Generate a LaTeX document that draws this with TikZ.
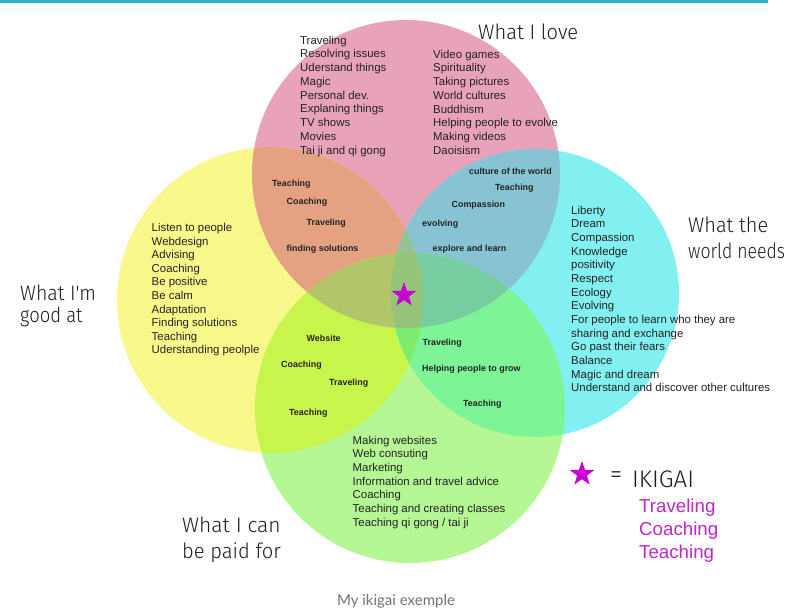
\documentclass[tikz,border=0pt]{standalone}
\usepackage{graphicx}
\usepackage{fontspec}
\setmainfont{Liberation Sans}
\newfontfamily\hand{Fira Sans Light}
\newfontfamily\capfont{Lato}
\usetikzlibrary{shapes.geometric}
\newcommand\hwsq[2]{\scalebox{#1}[1]{#2}}
\definecolor{cP}{RGB}{232,162,185}
\definecolor{cY}{RGB}{249,248,138}
\definecolor{cC}{RGB}{130,240,240}
\definecolor{cG}{RGB}{180,247,148}
\definecolor{cPY}{RGB}{228,162,130}
\definecolor{cPC}{RGB}{135,195,210}
\definecolor{cYG}{RGB}{200,245,75}
\definecolor{cCG}{RGB}{125,245,150}
\definecolor{cYC}{RGB}{170,240,170}
\definecolor{cPG}{RGB}{175,200,160}
\definecolor{cPYC}{RGB}{150,192,150}
\definecolor{cPYG}{RGB}{178,198,105}
\definecolor{cPCG}{RGB}{118,205,160}
\definecolor{cYCG}{RGB}{125,235,110}
\definecolor{cPYCG}{RGB}{150,195,122}
\definecolor{txt}{RGB}{35,35,35}
\definecolor{hwc}{RGB}{30,30,30}
\definecolor{mag}{RGB}{200,0,210}
\definecolor{magtxt}{RGB}{190,40,200}
\definecolor{bar}{RGB}{40,183,194}
\definecolor{band}{RGB}{244,251,251}
\definecolor{capc}{RGB}{115,115,115}
\begin{document}
\begin{tikzpicture}[x=1pt,y=-1pt,
  lst/.style={font=\fontsize{11.4}{13.7}\selectfont, text=txt, inner sep=0, anchor=base west},
  bl/.style={font=\bfseries\fontsize{8.9}{10}\selectfont, text=txt, inner sep=0, anchor=base west},
  hw/.style={font=\hand\fontsize{21}{25}\selectfont, text=hwc, inner sep=0, anchor=base west},
  mg/.style={font=\fontsize{18.7}{23}\selectfont, text=magtxt, inner sep=0, anchor=base west},
  starshape/.style={star, star points=5, star point ratio=2.5, minimum size=26pt, inner sep=0, fill=mag}]
\useasboundingbox (0,0) rectangle (800,608);
\fill[white] (0,0) rectangle (800,608);
\fill[band] (0,3) rectangle (768,13);
\fill[bar] (0,0) rectangle (768,3);
% circle centres
\coordinate (P) at (406,174);
\coordinate (Y) at (270,300);
\coordinate (C) at (535,293);
\coordinate (G) at (410,408);
% base circles
\fill[cP] (P) circle[radius=154pt];
\fill[cY] (Y) circle[radius=153pt];
\fill[cC] (C) circle[radius=144pt];
\fill[cG] (G) circle[radius=155pt];
% pairs
\begin{scope}\clip (P) circle[radius=154pt]; \fill[cPY] (Y) circle[radius=153pt];\end{scope}
\begin{scope}\clip (P) circle[radius=154pt]; \fill[cPC] (C) circle[radius=144pt];\end{scope}
\begin{scope}\clip (P) circle[radius=154pt]; \fill[cPG] (G) circle[radius=155pt];\end{scope}
\begin{scope}\clip (Y) circle[radius=153pt]; \fill[cYG] (G) circle[radius=155pt];\end{scope}
\begin{scope}\clip (Y) circle[radius=153pt]; \fill[cYC] (C) circle[radius=144pt];\end{scope}
\begin{scope}\clip (C) circle[radius=144pt]; \fill[cCG] (G) circle[radius=155pt];\end{scope}
% triples
\begin{scope}\clip (P) circle[radius=154pt]; \clip (Y) circle[radius=153pt]; \fill[cPYC] (C) circle[radius=144pt];\end{scope}
\begin{scope}\clip (P) circle[radius=154pt]; \clip (Y) circle[radius=153pt]; \fill[cPYG] (G) circle[radius=155pt];\end{scope}
\begin{scope}\clip (P) circle[radius=154pt]; \clip (C) circle[radius=144pt]; \fill[cPCG] (G) circle[radius=155pt];\end{scope}
\begin{scope}\clip (Y) circle[radius=153pt]; \clip (C) circle[radius=144pt]; \fill[cYCG] (G) circle[radius=155pt];\end{scope}
% all four
\begin{scope}\clip (P) circle[radius=154pt]; \clip (Y) circle[radius=153pt]; \clip (C) circle[radius=144pt]; \fill[cPYCG] (G) circle[radius=155pt];\end{scope}

% What I love lists
\foreach \t [count=\i] in {Traveling,Resolving issues,Uderstand things,Magic,Personal dev.,Explaning things,TV shows,Movies,Tai ji and qi gong}
  \node[lst] (pa\i) at (300,{44+(\i-1)*13.75}) {\t};
\foreach \t [count=\i] in {Video games,Spirituality,Taking pictures,World cultures,Buddhism,Helping people to evolve,Making videos,Daoisism}
  \node[lst] (pb\i) at (433,{58+(\i-1)*13.75}) {\t};
% good at
\foreach \t [count=\i] in {Listen to people,Webdesign,Advising,Coaching,Be positive,Be calm,Adaptation,Finding solutions,Teaching,Uderstanding peolple}
  \node[lst] (ya\i) at (151.5,{231.5+(\i-1)*13.6}) {\t};
% world needs
\foreach \t [count=\i] in {Liberty,Dream,Compassion,Knowledge,positivity,Respect,Ecology,Evolving,For people to learn who they are,sharing and exchange,Go past their fears,Balance,Magic and dream,Understand and discover other cultures}
  \node[lst] (ca\i) at (571,{214+(\i-1)*13.67}) {\t};
% paid for
\foreach \t [count=\i] in {Making websites,Web consuting,Marketing,Information and travel advice,Coaching,Teaching and creating classes,Teaching qi gong / tai ji}
  \node[lst] (ga\i) at (352.5,{444+(\i-1)*13.7}) {\t};

% intersections
\node[bl] (py1) at (272,186.5) {Teaching};
\node[bl] (py2) at (286.5,204) {Coaching};
\node[bl] (py3) at (306.5,225) {Traveling};
\node[bl] (py4) at (286.5,251) {finding solutions};
\node[bl] (pc1) at (469,174.3) {culture of the world};
\node[bl] (pc2) at (495,190.6) {Teaching};
\node[bl] (pc3) at (451.5,207.6) {Compassion};
\node[bl] (pc4) at (422,226.6) {evolving};
\node[bl] (pc5) at (432.5,251) {explore and learn};
\node[bl] (yg1) at (306.5,341) {Website};
\node[bl] (yg2) at (281,367) {Coaching};
\node[bl] (yg3) at (329,385.3) {Traveling};
\node[bl] (yg4) at (289,415.6) {Teaching};
\node[bl] (cg1) at (422.5,345) {Traveling};
\node[bl] (cg2) at (422,371.6) {Helping people to grow};
\node[bl] (cg3) at (463,406) {Teaching};

% handwritten titles
\node[hw] (love) at (478,39.5) {\hwsq{0.96}{What I love}};
\node[hw] (need1) at (688,232) {\hwsq{0.95}{What the}};
\node[hw] (need2) at (688,258) {\hwsq{0.84}{world needs}};
\node[hw] (good1) at (20,300) {\hwsq{0.93}{What I'm}};
\node[hw] (good2) at (20,322) {\hwsq{0.88}{good at}};
\node[hw] (paid1) at (182,532) {\hwsq{1}{What I can}};
\node[hw] (paid2) at (182,558) {\hwsq{0.96}{be paid for}};

% centre star
\node[starshape] (ikistar) at (404,295) {};

% legend
\node[starshape] (legstar) at (582,474) {};
\node[font=\fontsize{18}{20}\selectfont, text=txt, inner sep=0] (eq) at (616,476) {=};
\node[hw, font=\hand\fontsize{24}{26}\selectfont] (iki) at (632,487) {IKIGAI};
\node[mg] (m1) at (639,512) {Traveling};
\node[mg] (m2) at (639,535.5) {Coaching};
\node[mg] (m3) at (639,558.5) {Teaching};

% caption
\node[font=\capfont\fontsize{15}{17}\selectfont, text=capc, inner sep=0, anchor=base] (cap) at (396,605) {My ikigai exemple};
\end{tikzpicture}
\end{document}
